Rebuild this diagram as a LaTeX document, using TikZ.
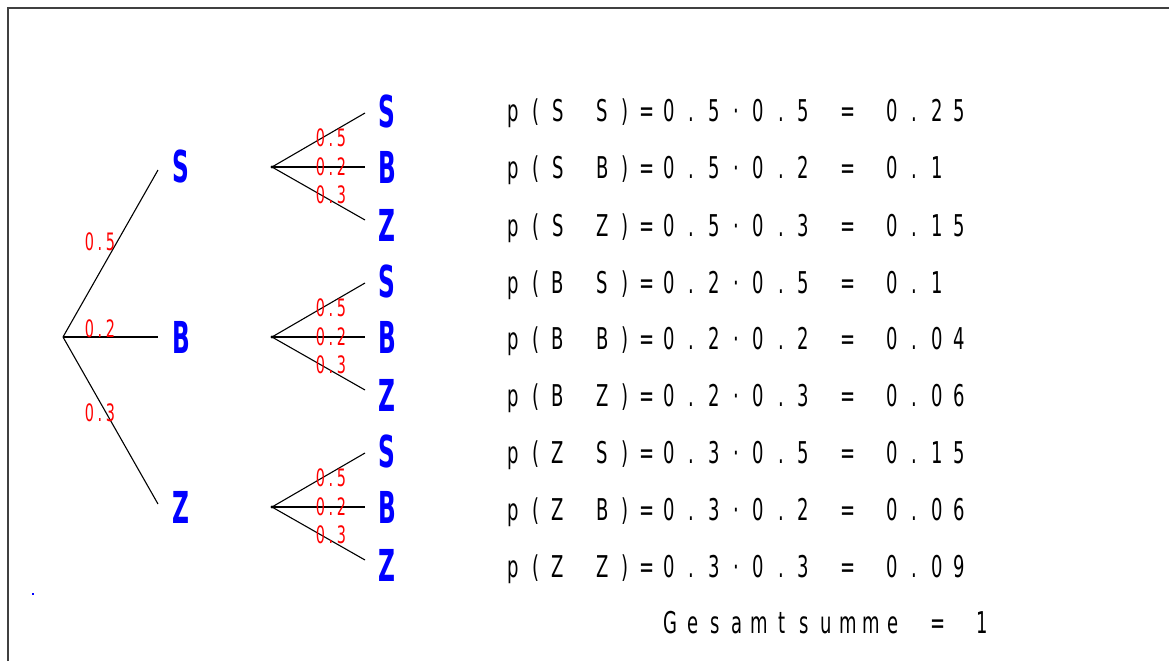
\documentclass[tikz,border=0pt]{standalone}
\usepackage{fontspec}
\newfontfamily\lfont{DejaVu Sans}[FakeStretch=0.6]
\newfontfamily\leaffont{DejaVu Sans}[FakeStretch=0.53]
\makeatletter
\newcommand\spc[2]{\@tfor\x:=#2\do{\makebox[#1][c]{\x}}}
\makeatother
\tikzset{
  frame/.style={draw=black!75, line width=2pt},
  leaf/.style={text=blue, font=\leaffont\bfseries\fontsize{44}{44}\selectfont, inner sep=0, anchor=base},
  prob/.style={text=red, font=\lfont\fontsize{24}{24}\selectfont, inner sep=0},
  row/.style={anchor=base west, font=\lfont\fontsize{30}{30}\selectfont, inner sep=0},
  br/.style={draw=black, line width=1.1pt}
}
\begin{document}
\begin{tikzpicture}[x=1pt,y=-1pt]
\useasboundingbox (0,0) rectangle (1169,661);
\draw[frame] (8,661) -- (8,8) -- (1169,8);
\fill[blue] (32,593) rectangle (34,595);
% first level
\coordinate (R) at (63,337);
\coordinate (eS) at (158,170);
\coordinate (eB) at (158,337);
\coordinate (eZ) at (158,504);
\draw[br] (R) -- (eS);
\draw[br] (R) -- (eB);
\draw[br] (R) -- (eZ);
\node[leaf] (S) at (181,182) {S};
\node[leaf] (B) at (181,353) {B};
\node[leaf] (Z) at (181,523) {Z};
\node[prob] (p1) at (100,242) {\spc{10.5pt}{0.5}};
\node[prob] (p2) at (100,329) {\spc{10.5pt}{0.2}};
\node[prob] (p3) at (100,413) {\spc{10.5pt}{0.3}};
% second level
\foreach \n/\y in {S/167,B/337,Z/507}{
  \coordinate (r\n) at (272,\y);
  \coordinate (r\n a) at (365,\y-54);
  \coordinate (r\n b) at (365,\y);
  \coordinate (r\n c) at (365,\y+53);
  \draw[br] (r\n) -- (r\n a);
  \draw[br] (r\n) -- (r\n b);
  \draw[br] (r\n) -- (r\n c);
  \fill (r\n) circle (1.6);
  \node[leaf] (l\n S) at (387,\y-40) {S};
  \node[leaf] (l\n B) at (387,\y+16) {B};
  \node[leaf] (l\n Z) at (387,\y+74) {Z};
  \node[prob] (q\n a) at (331,\y-29) {\spc{10.5pt}{0.5}};
  \node[prob] (q\n b) at (331,\y) {\spc{10.5pt}{0.2}};
  \node[prob] (q\n c) at (331,\y+28) {\spc{10.5pt}{0.3}};
}
% results
\node[row] (t1) at (502,121) {\spc{22.3pt}{p(S~S)=0.5·0.5~=~0.25}};
\node[row] (t2) at (502,178) {\spc{22.3pt}{p(S~B)=0.5·0.2~=~0.1}};
\node[row] (t3) at (502,236) {\spc{22.3pt}{p(S~Z)=0.5·0.3~=~0.15}};
\node[row] (t4) at (502,293) {\spc{22.3pt}{p(B~S)=0.2·0.5~=~0.1}};
\node[row] (t5) at (502,349) {\spc{22.3pt}{p(B~B)=0.2·0.2~=~0.04}};
\node[row] (t6) at (502,406) {\spc{22.3pt}{p(B~Z)=0.2·0.3~=~0.06}};
\node[row] (t7) at (502,463) {\spc{22.3pt}{p(Z~S)=0.3·0.5~=~0.15}};
\node[row] (t8) at (502,520) {\spc{22.3pt}{p(Z~B)=0.3·0.2~=~0.06}};
\node[row] (t9) at (502,577) {\spc{22.3pt}{p(Z~Z)=0.3·0.3~=~0.09}};
\node[row] (tg) at (659,633) {\spc{22.3pt}{Gesamtsumme~=~1}};
\end{tikzpicture}
\end{document}
